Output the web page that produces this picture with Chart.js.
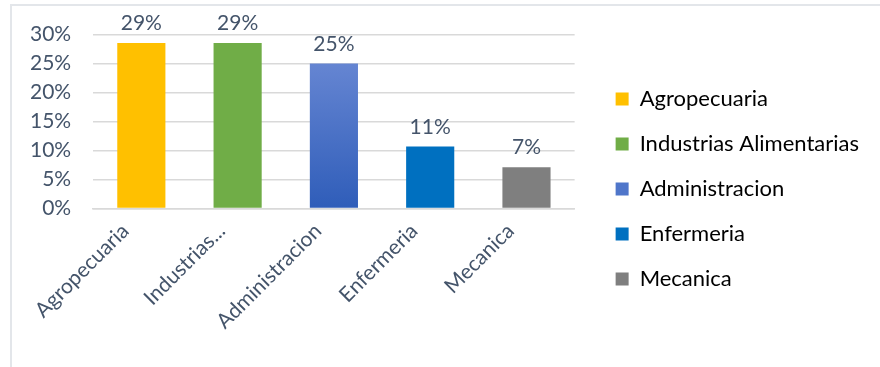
<!DOCTYPE html>
<html>
<head>
<meta charset="utf-8">
<script src="https://cdn.jsdelivr.net/npm/chart.js@4.4.0/dist/chart.umd.min.js"></script>
<style>
  body { margin: 0; background: #fff; }
  #frame { position: absolute; left: 10px; top: 4px; width: 900px; height: 400px; border: 2px solid #E3E6EA; box-sizing: border-box; }
  #wrap { position: absolute; left: 0; top: 0; width: 880px; height: 367px; }
</style>
</head>
<body>
<div id="frame"></div>
<div id="wrap"><canvas id="barChart" width="880" height="367"></canvas></div>
<script>
const categories = ['Agropecuaria', 'Industrias Alimentarias', 'Administracion', 'Enfermeria', 'Mecanica'];
const tickLabels = ['Agropecuaria', 'Industrias...', 'Administracion', 'Enfermeria', 'Mecanica'];
const percentages = [28.57, 28.57, 25.0, 10.71, 7.14];
const barColors = ['#FFC000', '#70AD47', null, '#0070C0', '#7F7F7F'];
const yTicks = [0, 5, 10, 15, 20, 25, 30];

const textColor = '#44546A';
const fontFamily = 'Lato, "Open Sans", sans-serif';
const fontSize = 21;

function adminGradient(ctx, top, bottom) {
  const g = ctx.createLinearGradient(0, top, 0, bottom);
  g.addColorStop(0, '#6585D2');
  g.addColorStop(1, '#2F5DB9');
  return g;
}

function barFill(context) {
  const i = context.dataIndex;
  if (barColors[i]) return barColors[i];
  const area = context.chart.chartArea;
  if (!area) return '#4472C4';
  const y = context.chart.scales.y.getPixelForValue(percentages[i]);
  return adminGradient(context.chart.ctx, y, area.bottom);
}

const valueLabels = {
  id: 'valueLabels',
  afterDatasetsDraw(chart) {
    const ctx = chart.ctx;
    const meta = chart.getDatasetMeta(0);
    ctx.save();
    ctx.font = fontSize + 'px ' + fontFamily;
    ctx.fillStyle = textColor;
    ctx.textAlign = 'center';
    ctx.textBaseline = 'bottom';
    meta.data.forEach((bar, i) => {
      ctx.fillText(Math.round(percentages[i]) + '%', bar.x, bar.y - 9);
    });
    ctx.restore();
  }
};

function drawChart() {
  const ctx = document.getElementById('barChart').getContext('2d');
  new Chart(ctx, {
    type: 'bar',
    data: {
      labels: categories,
      datasets: [{
        data: percentages,
        backgroundColor: barFill,
        borderWidth: 0,
        categoryPercentage: 1.0,
        barPercentage: 0.5
      }]
    },
    options: {
      responsive: false,
      animation: false,
      layout: { padding: { left: 8, top: 34, right: 11, bottom: 23 } },
      plugins: {
        tooltip: { enabled: false },
        legend: {
          display: true,
          position: 'right',
          maxWidth: 400,
          labels: {
            color: textColor,
            font: { family: fontFamily, size: 22 },
            boxWidth: 13,
            boxHeight: 13,
            padding: 23,
            generateLabels() {
              return categories.map((name, i) => ({
                text: name,
                fillStyle: barColors[i] || '#4F76CA',
                strokeStyle: 'transparent',
                lineWidth: 0,
                hidden: false,
                index: i
              }));
            }
          }
        }
      },
      scales: {
        y: {
          min: 0,
          max: 30,
          afterBuildTicks(axis) { axis.ticks = yTicks.map(v => ({ value: v })); },
          ticks: {
            color: textColor,
            font: { family: fontFamily, size: fontSize },
            padding: 22,
            autoSkip: false,
            callback: v => v + '%'
          },
          grid: { color: '#D9D9D9', lineWidth: 1.5, drawTicks: false },
          border: { display: false }
        },
        gap: {
          position: 'right',
          display: true,
          ticks: { display: false },
          grid: { display: false, drawTicks: false },
          border: { display: false },
          afterFit(axis) { axis.width = 18; }
        },
        x: {
          ticks: {
            color: textColor,
            font: { family: fontFamily, size: fontSize },
            minRotation: 45,
            maxRotation: 45,
            autoSkip: false,
            padding: 10,
            labelOffset: -16,
            callback: (v, i) => tickLabels[i]
          },
          grid: { display: false, drawTicks: false },
          border: { display: true, color: '#D9D9D9', width: 1.5 },
          afterFit(axis) { axis.paddingLeft = 0; axis.paddingRight = 0; }
        }
      }
    },
    plugins: [valueLabels]
  });
}

document.fonts.load(fontSize + 'px Lato').then(drawChart, drawChart);
</script>
</body>
</html>
